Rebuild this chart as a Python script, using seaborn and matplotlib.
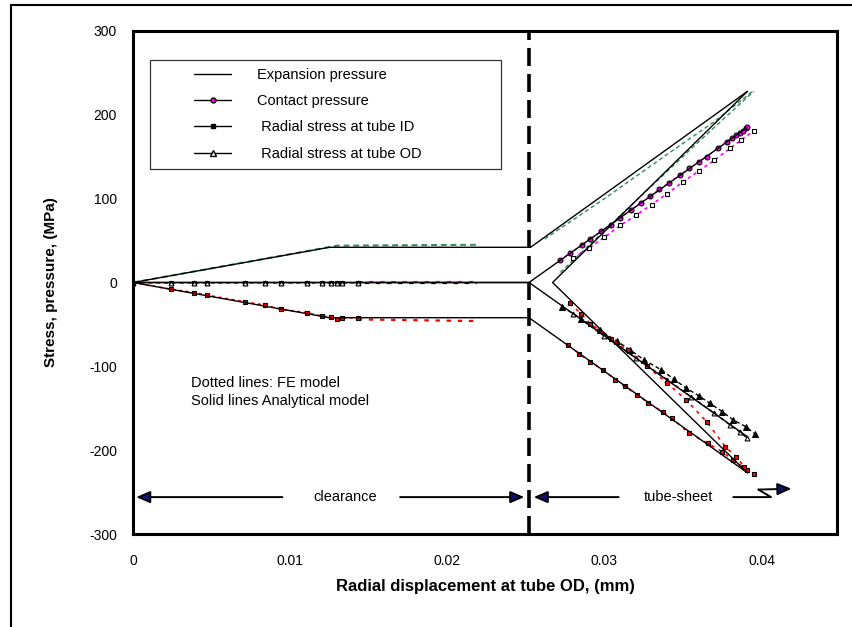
import matplotlib
matplotlib.use("Agg")
import matplotlib.pyplot as plt
import seaborn as sns
from matplotlib.lines import Line2D
from matplotlib.legend_handler import HandlerLine2D
from matplotlib.ticker import MultipleLocator, FuncFormatter

# ---- analytical model (solid lines) ----
ana_exp_x = [0, 0.0125, 0.0253, 0.0391]
ana_exp_y = [0, 42, 42, 228]
ana_contact_x = [0, 0.0252, 0.0391]
ana_contact_y = [0, 0, 185]
ana_id_x = [0, 0.0125, 0.0252, 0.0391]
ana_id_y = [0, -42, -42, -227]
ana_od_x = [0, 0.0252, 0.0391]
ana_od_y = [0, 0, -184]
ana_zero_x = [0.0391, 0.0267, 0.0391]
ana_zero_y = [228, 0, -227]

# ---- FE model, clearance stage ----
fe_clr_x = [0, 0.0024, 0.0039, 0.0047, 0.0071, 0.0084, 0.0094, 0.0111, 0.0120, 0.0126, 0.0130, 0.0133, 0.0143]
fe_clr_id = [0, -8, -12, -15, -23, -27, -32, -36, -40, -41, -43, -42, -42]
fe_clr_zero = [0, 0, 0, 0, 0, 0, 0, 0, 0, 0, 0, 0, 0]
fe_clr_tail_x = [0.0143, 0.0219]
fe_clr_tail_id = [-44, -46]
fe_clr_tail_contact = [1, 1]
fe_clr_tail_od = [0, 0]
fe_clr_exp_x = [0, 0.0130, 0.0219]
fe_clr_exp_y = [0, 44, 45]

# ---- FE model, tube-sheet stage ----
fe_exp1_x = [0.0262, 0.0300, 0.0340, 0.0370, 0.0395]
fe_exp1_y = [52, 100, 153, 192, 229]
fe_exp2_x = [0.0272, 0.0300, 0.0330, 0.0360, 0.0395]
fe_exp2_y = [12, 62, 115, 168, 228]

fe_contact1_x = [0.0272, 0.0278, 0.0286, 0.0291, 0.0298, 0.0304, 0.0310, 0.0317, 0.0323, 0.0329, 0.0335, 0.0341,
                 0.0348, 0.0354, 0.0360, 0.0365, 0.0372, 0.0378, 0.0381, 0.0384, 0.0386, 0.0388, 0.0390, 0.0391]
fe_contact1_y = [27, 35, 45, 52, 61, 69, 77, 87, 95, 103, 111, 119,
                 128, 136, 144, 150, 160, 168, 172, 176, 178, 181, 184, 185]
fe_contact2_x = [0.0280, 0.0290, 0.0300, 0.0310, 0.0320, 0.0330, 0.0340, 0.0350, 0.0360, 0.0370, 0.0380, 0.0387, 0.0395]
fe_contact2_y = [29, 41, 54, 68, 80, 93, 106, 120, 133, 146, 160, 170, 181]

fe_od1_x = [0.0273, 0.0285, 0.0297, 0.0308, 0.0316, 0.0325, 0.0336, 0.0344, 0.0352, 0.0360, 0.0367, 0.0375, 0.0382, 0.0390, 0.0396]
fe_od1_y = [-29, -43, -57, -70, -80, -92, -104, -115, -126, -135, -144, -154, -164, -172, -181]
fe_od2_x = [0.0280, 0.0300, 0.0320, 0.0340, 0.0355, 0.0370, 0.0380, 0.0386, 0.0391]
fe_od2_y = [-37, -64, -90, -116, -136, -156, -170, -178, -186]

fe_id1_x = [0.0277, 0.0284, 0.0291, 0.0299, 0.0307, 0.0313, 0.0321, 0.0328, 0.0337, 0.0343, 0.0354, 0.0366,
            0.0375, 0.0382, 0.0391, 0.0395]
fe_id1_y = [-75, -85, -95, -104, -116, -124, -134, -144, -154, -162, -180, -192, -202, -212, -224, -228]
fe_id2_x = [0.0278, 0.0285, 0.0291, 0.0304, 0.0315, 0.0327, 0.0340, 0.0352, 0.0365, 0.0377, 0.0384, 0.0389]
fe_id2_y = [-25, -37, -49, -67, -81, -100, -120, -140, -166, -196, -208, -220]

legend_labels = ["Expansion pressure", "Contact pressure", " Radial stress at tube ID", " Radial stress at tube OD"]
x_gap = 0.0252
arrow_y = -256

sns.set_theme(style="white")
plt.rcParams['font.family'] = ['Liberation Sans', 'DejaVu Sans']
plt.rcParams['axes.unicode_minus'] = False
plt.rcParams['text.color'] = 'black'
plt.rcParams['axes.labelcolor'] = 'black'

fig = plt.figure(figsize=(8.52, 6.27), dpi=100)
ax = fig.add_axes([133 / 852, 93 / 627, 704 / 852, 503 / 627])

mk = dict(markersize=3.5, markeredgecolor="black", markeredgewidth=0.8)


def line(xs, ys, **kw):
    sns.lineplot(x=xs, y=ys, sort=False, estimator=None, errorbar=None, ax=ax, **kw)


# FE dotted lines
line(fe_clr_exp_x, fe_clr_exp_y, color="#2e8b57", linestyle=(0, (3, 2)), lw=1.4)
line(fe_exp1_x, fe_exp1_y, color="#2e8b57", linestyle=(0, (3, 2)), lw=1.0)
line(fe_exp2_x, fe_exp2_y, color="#2e8b57", linestyle=(0, (3, 2)), lw=1.0)

line(fe_clr_tail_x, fe_clr_tail_id, color="red", linestyle=(0, (2, 3)), lw=1.6)
line(fe_clr_tail_x, fe_clr_tail_contact, color="magenta", linestyle=(0, (2, 3)), lw=1.6)
line(fe_clr_tail_x, fe_clr_tail_od, color="black", linestyle=(2, (2, 3)), lw=1.6)
line(fe_clr_x, fe_clr_id, color="red", linestyle=(0, (2, 2)), lw=1.2, marker="s", markerfacecolor="red", **mk)
line(fe_clr_x, fe_clr_zero, color="magenta", linestyle=(0, (2, 2)), lw=1.4, marker="s", markerfacecolor="white", **mk)
line(fe_clr_x, fe_clr_zero, color="black", linestyle="none", marker="^", markerfacecolor="white", **mk)

line(fe_contact2_x, fe_contact2_y, color="magenta", linestyle=(0, (2, 2)), lw=1.2, marker="s",
     markerfacecolor="white", **mk)
line(fe_contact1_x, fe_contact1_y, color="magenta", linestyle=(0, (2, 2)), lw=1.0, marker="o",
     markerfacecolor="magenta", **mk)
line(fe_od1_x, fe_od1_y, color="black", linestyle=(0, (3, 2)), lw=1.0, marker="^", markerfacecolor="black",
     markersize=5, markeredgecolor="black")
line(fe_od2_x, fe_od2_y, color="black", linestyle=(0, (3, 2)), lw=1.0, marker="^", markerfacecolor="white", **mk)
line(fe_id1_x, fe_id1_y, color="red", linestyle=(0, (2, 3)), lw=1.2, marker="s", markerfacecolor="red", **mk)
line(fe_id2_x, fe_id2_y, color="red", linestyle=(0, (2, 3)), lw=1.2, marker="s", markerfacecolor="red", **mk)

# analytical solid lines
for xs, ys in [(ana_exp_x, ana_exp_y), (ana_contact_x, ana_contact_y), (ana_id_x, ana_id_y),
               (ana_od_x, ana_od_y), (ana_zero_x, ana_zero_y)]:
    line(xs, ys, color="black", lw=1.0)

# clearance / tube-sheet boundary
ax.axvline(x_gap, color="black", lw=2.6, linestyle=(0, (5, 2.2)), zorder=5)

ax.set_xlim(0, 0.0448)
ax.set_ylim(-300, 300)
ax.xaxis.set_major_locator(MultipleLocator(0.01))
ax.xaxis.set_minor_locator(MultipleLocator(0.002))
ax.yaxis.set_major_locator(MultipleLocator(100))
ax.yaxis.set_minor_locator(MultipleLocator(20))
ax.xaxis.set_major_formatter(FuncFormatter(lambda v, p: "0" if abs(v) < 1e-9 else f"{v:.2f}"))
ax.tick_params(which="major", direction="inout", length=9, width=1.2, labelsize=10, colors="black")
ax.tick_params(which="minor", direction="in", length=5, width=1.0, colors="black")
ax.tick_params(axis="x", which="major", pad=10)
ax.tick_params(axis="y", which="major", pad=7)
for s in ax.spines.values():
    s.set_linewidth(2.2)
    s.set_color("black")

ax.set_xlabel("Radial displacement at tube OD, (mm)", fontsize=12, fontweight="bold", labelpad=8)
ax.set_ylabel("Stress, pressure, (MPa)", fontsize=11, fontweight="bold", labelpad=22)

# legend
handles = [
    Line2D([], [], color="black", lw=1.0),
    Line2D([], [], color="black", lw=1.0, marker="o", markerfacecolor="magenta", markersize=3.5, markeredgecolor="black"),
    Line2D([], [], color="black", lw=1.0, marker="s", markerfacecolor="black", markersize=3.5),
    Line2D([], [], color="black", lw=1.0, marker="^", markerfacecolor="white", markersize=4, markeredgecolor="black"),
]
leg = ax.legend(handles, legend_labels, loc="upper left", bbox_to_anchor=(0.024, 0.943, 0.499, 0.0),
                mode="expand", borderaxespad=0, fontsize=10.5, frameon=True, fancybox=False,
                borderpad=0.55, labelspacing=0.85, handlelength=5.0, handletextpad=1.8,
                handler_map={Line2D: HandlerLine2D(xpad=2.5)})
leg.get_frame().set_edgecolor("black")
leg.get_frame().set_linewidth(0.9)

ax.text(0.0037, -120, "Dotted lines: FE model", fontsize=10.5, va="center")
ax.text(0.0037, -141, "Solid lines Analytical model", fontsize=10.5, va="center")

# region arrows
head = dict(arrowstyle="-|>,head_length=0.7,head_width=0.3", fc="#101070", ec="black", lw=1.4, shrinkA=0, shrinkB=0)
ax.annotate("", xy=(0.0002, arrow_y), xytext=(0.0095, arrow_y), arrowprops=head)
ax.annotate("", xy=(0.0249, arrow_y), xytext=(0.0170, arrow_y), arrowprops=head)
ax.text(0.0135, arrow_y, "clearance", fontsize=10.5, ha="center", va="center")
ax.annotate("", xy=(0.0255, arrow_y), xytext=(0.0309, arrow_y), arrowprops=head)
ax.text(0.0347, arrow_y, "tube-sheet", fontsize=10.5, ha="center", va="center")
ax.plot([0.0382, 0.0406, 0.0398], [arrow_y, arrow_y, -247], color="black", lw=1.4, clip_on=False)
ax.annotate("", xy=(0.0419, -246), xytext=(0.0398, -247), arrowprops=head, annotation_clip=False)

# outer frame
fig.add_artist(Line2D([11 / 852, 11 / 852], [0, 1 - 5 / 627], color="black", lw=1.5, transform=fig.transFigure))
fig.add_artist(Line2D([11 / 852, 1], [1 - 5 / 627, 1 - 5 / 627], color="black", lw=1.5, transform=fig.transFigure))

fig.savefig("out.png", dpi=100)
